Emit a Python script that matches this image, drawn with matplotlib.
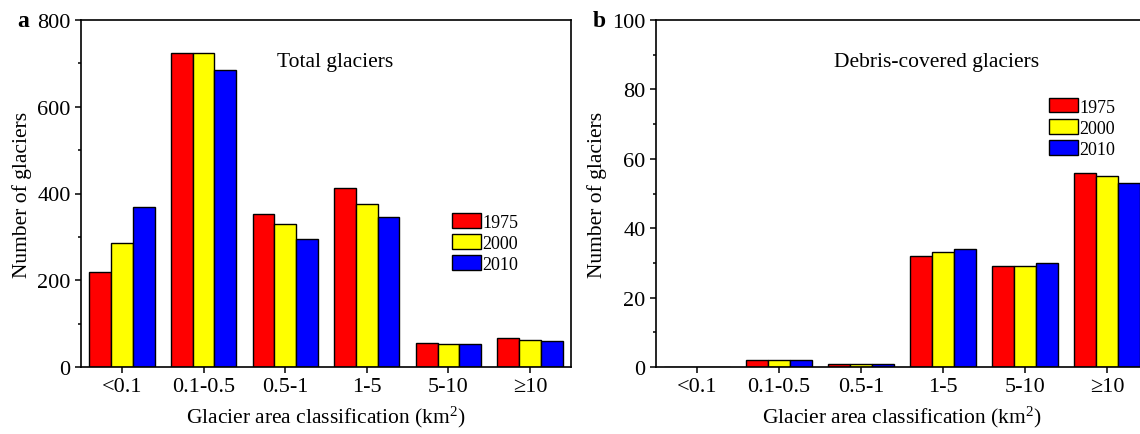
import numpy as np
import matplotlib
matplotlib.use("Agg")
import matplotlib.pyplot as plt
from matplotlib.ticker import MultipleLocator

plt.rcParams['font.family'] = ['Liberation Serif', 'DejaVu Serif']
plt.rcParams['mathtext.fontset'] = 'custom'
plt.rcParams['mathtext.rm'] = 'Liberation Serif'
plt.rcParams['mathtext.it'] = 'Liberation Serif:italic'

categories = ['<0.1', '0.1-0.5', '0.5-1', '1-5', '5-10', '\u226510']
years = ['1975', '2000', '2010']
colors = ['#ff0000', '#ffff00', '#0000ff']

# panel a: all glaciers
total_1975 = [220, 723, 352, 413, 55, 66]
total_2000 = [285, 723, 329, 376, 53, 63]
total_2010 = [370, 684, 296, 345, 53, 61]

# panel b: debris-covered glaciers
debris_1975 = [0, 2, 1, 32, 29, 56]
debris_2000 = [0, 2, 1, 33, 29, 55]
debris_2010 = [0, 2, 1, 34, 30, 53]

fig = plt.figure(figsize=(11.4, 4.35), dpi=100)
ax_a = fig.add_axes([81 / 1140, 67 / 435, 490 / 1140, 347 / 435])
ax_b = fig.add_axes([656 / 1140, 67 / 435, 492 / 1140, 347 / 435])

x = np.arange(len(categories))
w = 0.8 / 3


def draw_panel(ax, series, ymax, major, minor, title, title_x, leg_xy):
    for i, vals in enumerate(series):
        ax.bar(x + (i - 1) * w, vals, width=w, color=colors[i],
               edgecolor='black', linewidth=1.0, label=years[i])
    ax.set_xlim(-0.5, 5.5)
    ax.set_ylim(0, ymax)
    ax.set_xticks(x)
    ax.set_xticklabels(categories)
    ax.yaxis.set_major_locator(MultipleLocator(major))
    ax.yaxis.set_minor_locator(MultipleLocator(minor))
    ax.tick_params(axis='both', which='major', direction='out', length=4.5,
                   width=1.1, labelsize=16, pad=3)
    ax.tick_params(axis='y', which='minor', direction='out', length=2.4, width=1.1)
    ax.tick_params(axis='x', which='minor', bottom=False)
    for s in ax.spines.values():
        s.set_linewidth(1.2)
    ax.set_xlabel('Glacier area classification (km$^2$)', fontsize=15.5, labelpad=5)
    ax.set_ylabel('Number of glaciers', fontsize=15.5, labelpad=4)
    ax.text(title_x, 0.88, title, transform=ax.transAxes, ha='center',
            va='center', fontsize=15.5)
    ax.legend(loc='upper left', bbox_to_anchor=leg_xy, frameon=False,
              fontsize=13, borderpad=0, handlelength=1.6, handleheight=0.85,
              handletextpad=0.1, labelspacing=0.2, borderaxespad=0)


draw_panel(ax_a, [total_1975, total_2000, total_2010], 800, 200, 100,
           'Total glaciers', 0.518, (0.757, 0.443))
draw_panel(ax_b, [debris_1975, debris_2000, debris_2010], 100, 20, 10,
           'Debris-covered glaciers', 0.571, (0.798, 0.775))

fig.text(17 / 1140, 1 - 27 / 435, 'a', fontsize=17, fontweight='bold')
fig.text(593 / 1140, 1 - 27 / 435, 'b', fontsize=17, fontweight='bold')

fig.savefig('out.png', dpi=100)
